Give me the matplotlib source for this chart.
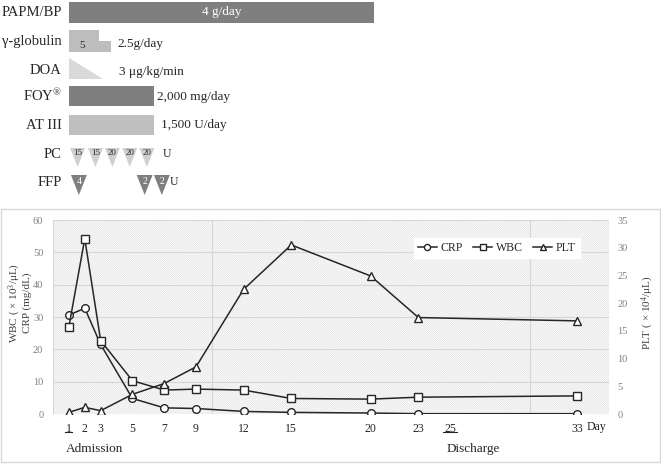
import matplotlib
matplotlib.use("Agg")
import matplotlib.pyplot as plt
from matplotlib.patches import Rectangle, Polygon
import matplotlib.transforms as mtransforms

plt.rcParams['font.family'] = ['Liberation Serif', 'DejaVu Serif']
plt.rcParams['mathtext.fontset'] = 'custom'
plt.rcParams['mathtext.rm'] = 'Liberation Serif'
plt.rcParams['mathtext.it'] = 'Liberation Serif:italic'
plt.rcParams['hatch.linewidth'] = 0.5

# ---------------- data ----------------
days = [1, 2, 3, 5, 7, 9, 12, 15, 20, 23, 33]
crp = [30.6, 32.7, 21.5, 4.8, 1.9, 1.7, 0.8, 0.5, 0.3, 0.1, 0.1]
wbc = [27.0, 54.2, 22.7, 10.3, 7.4, 7.7, 7.4, 4.8, 4.6, 5.2, 5.6]
plt_vals = [0.3, 1.2, 0.6, 3.55, 5.5, 8.5, 22.5, 30.5, 24.9, 17.4, 16.8]

tick_days = [1, 2, 3, 5, 7, 9, 12, 15, 20, 23, 25, 33]
tick_labels = ['1', '2', '3', '5', '7', '9', '12', '15', '20', '23', '25', '33']
underlined_days = [1, 25]
event_labels = ['Admission', 'Discharge']
event_days = [1, 25]

# treatments (start day, end day)
papm_period = (1.0, 20.2)
papm_label = '4 g/day'
gglob_high = (1.0, 2.88)
gglob_low_end = 3.63
gglob_dose_first = '5'
gglob_label = '2.5g/day'
doa_period = (1.0, 3.13)
doa_label = '3 μg/kg/min'
foy_period = (1.0, 6.33)
foy_label = '2,000 mg/day'
at3_period = (1.0, 6.33)
at3_label = '1,500 U/day'
pc_days = [1.55, 2.67, 3.74, 4.83, 5.91]
pc_units = ['15', '15', '20', '20', '20']
ffp_days = [1.63, 5.77, 6.85]
ffp_units = ['4', '2', '2']
row_names = ['PAPM/BP', 'γ-globulin', 'DOA', 'FOY$^{®}$', 'AT III', 'PC', 'FFP']

# ---------------- figure ----------------
W, H = 661, 465
fig = plt.figure(figsize=(W / 100, H / 100), dpi=100)

# frame around lower panel
fig.patches.append(Rectangle((0.5 / W, 1 - 462 / H), 659.5 / W, (462 - 209) / H,
                             transform=fig.transFigure, facecolor='none',
                             edgecolor='#d9d9d9', lw=1.0))

L, R, T, B = 53, 609, 220, 414
ax = fig.add_axes([L / W, 1 - B / H, (R - L) / W, (B - T) / H])
ax.set_xlim(0, 35)
ax.set_ylim(0, 60)
ax.set_facecolor('white')
ax.add_patch(Rectangle((0, 0), 1, 1, transform=ax.transAxes, facecolor='none',
                       edgecolor='#e2e2e2', hatch='\\' * 16, lw=0, zorder=0))
for s in ax.spines.values():
    s.set_visible(False)
ax.set_yticks(range(0, 61, 10))
ax.set_xticks(range(0, 36, 5), minor=True)
ax.set_xticks(tick_days)
ax.set_xticklabels(tick_labels, fontsize=8.5, color='#262626')
ax.tick_params(axis='x', which='both', length=0, pad=6.5)
ax.tick_params(axis='y', length=0, pad=7, labelsize=7.5, labelcolor='#808080')
ax.grid(which='minor', axis='x', color='#d6d6d6', lw=0.8)
ax.grid(which='major', axis='y', color='#d6d6d6', lw=0.8)
ax.grid(which='major', axis='x', visible=False)
ax.set_axisbelow(True)

ax2 = ax.twinx()
ax2.set_ylim(0, 35)
ax2.set_yticks(range(0, 36, 5))
ax2.tick_params(axis='y', length=0, pad=6, labelsize=7.5, labelcolor='#808080')
for s in ax2.spines.values():
    s.set_visible(False)

lc = '#262626'
l1, = ax.plot(days, crp, color=lc, lw=1.1, marker='o', ms=5.5, mfc='white',
              mec=lc, mew=1.0, label='CRP', zorder=3)
l2, = ax.plot(days, wbc, color=lc, lw=1.1, marker='s', ms=5.5, mfc='white',
              mec=lc, mew=1.0, label='WBC', zorder=3)
l3, = ax2.plot(days, plt_vals, color=lc, lw=1.1, marker='^', ms=5.5, mfc='white',
               mec=lc, mew=1.0, label='PLT', zorder=3)

leg = ax2.legend(handles=[l1, l2, l3], loc='center', bbox_to_anchor=(0.798, 0.856),
                 ncol=3, frameon=True, fancybox=False, framealpha=1,
                 edgecolor='white', facecolor='white', fontsize=8.5,
                 handlelength=1.6, handletextpad=0.3, columnspacing=0.9,
                 borderpad=0.35, markerscale=0.8)
for t in leg.get_texts():
    t.set_color('#262626')

# underline tick labels
trans = mtransforms.blended_transform_factory(ax.transData, ax.transAxes)
for d in underlined_days:
    hw = 0.22 if d < 10 else 0.42
    ax.plot([d - hw, d + hw], [-0.095, -0.095], transform=trans, color='#262626',
            lw=0.8, clip_on=False)
ax.text(33.6, -0.067, 'Day', transform=trans, fontsize=8.5, color='#262626',
        ha='left', va='center')
for lab, d in zip(event_labels, event_days):
    ax.text(d - 0.2, -0.178, lab, transform=trans, fontsize=9.5, color='#262626',
            ha='left', va='center')

fig.text(15 / W, 1 - 303 / H, 'WBC ( × 10$^3$/μL)', rotation=90, fontsize=8,
         color='#404040', ha='center', va='center')
fig.text(27 / W, 1 - 303 / H, 'CRP (mg/dL)', rotation=90, fontsize=8,
         color='#404040', ha='center', va='center')
fig.text(648 / W, 1 - 313 / H, 'PLT ( × 10$^4$/μL)', rotation=90, fontsize=8,
         color='#404040', ha='center', va='center')

# ---------------- treatment panel ----------------
axt = fig.add_axes([L / W, 1 - 200 / H, (R - L) / W, 200 / H])
axt.set_xlim(0, 35)
axt.set_ylim(200, 0)
axt.axis('off')

dark = '#7f7f7f'
txtc = '#262626'
label_x = 0.56
row_y = [13, 42, 70, 96, 125, 154, 182]
for name, y in zip(row_names, row_y):
    axt.text(label_x, y, name, ha='right', va='center', fontsize=10.5, color=txtc)

# PAPM/BP
axt.add_patch(Rectangle((papm_period[0], 1.7), papm_period[1] - papm_period[0], 21,
                        facecolor=dark, edgecolor='none'))
axt.text(sum(papm_period) / 2, 12.5, papm_label, ha='center', va='center',
         fontsize=9.5, color='white')

# gamma-globulin step
axt.add_patch(Polygon([(gglob_high[0], 52), (gglob_high[0], 30), (gglob_high[1], 30),
                       (gglob_high[1], 41), (gglob_low_end, 41), (gglob_low_end, 52)],
                      closed=True, facecolor='#bdbdbd', edgecolor='none'))
axt.text(gglob_high[0] + 0.85, 45, gglob_dose_first, ha='center', va='center',
         fontsize=8, color=txtc)
axt.text(gglob_low_end + 0.45, 43.5, gglob_label, ha='left', va='center',
         fontsize=9.5, color=txtc)

# DOA triangle
axt.add_patch(Polygon([(doa_period[0], 58), (doa_period[0], 79), (doa_period[1], 79)],
                      closed=True, facecolor='#d9d9d9', edgecolor='none'))
axt.text(doa_period[1] + 1.0, 72.5, doa_label, ha='left', va='center',
         fontsize=9.5, color=txtc)

# FOY
axt.add_patch(Rectangle((foy_period[0], 86), foy_period[1] - foy_period[0], 20,
                        facecolor=dark, edgecolor='none'))
axt.text(foy_period[1] + 0.2, 97, foy_label, ha='left', va='center',
         fontsize=9.5, color=txtc)

# AT III
axt.add_patch(Rectangle((at3_period[0], 115), at3_period[1] - at3_period[0], 19.5,
                        facecolor='#bfbfbf', edgecolor='none'))
axt.text(at3_period[1] + 0.45, 125, at3_label, ha='left', va='center',
         fontsize=9.5, color=txtc)

# PC triangles
hw = 0.47
for d, u in zip(pc_days, pc_units):
    axt.add_patch(Polygon([(d - hw, 148), (d + hw, 148), (d, 167)], closed=True,
                          facecolor='#d0d0d0', edgecolor='none'))
    axt.text(d, 153, u, ha='center', va='center', fontsize=6.5, color=txtc)
axt.text(pc_days[-1] + 1.0, 153.5, 'U', ha='left', va='center', fontsize=8.5, color=txtc)

# FFP triangles
hw = 0.5
for d, u in zip(ffp_days, ffp_units):
    axt.add_patch(Polygon([(d - hw, 175), (d + hw, 175), (d, 195)], closed=True,
                          facecolor=dark, edgecolor='none'))
    axt.text(d, 181, u, ha='center', va='center', fontsize=7, color='white')
axt.text(ffp_days[-1] + 0.5, 182, 'U', ha='left', va='center', fontsize=8.5, color=txtc)

fig.savefig('out.png', dpi=100)
